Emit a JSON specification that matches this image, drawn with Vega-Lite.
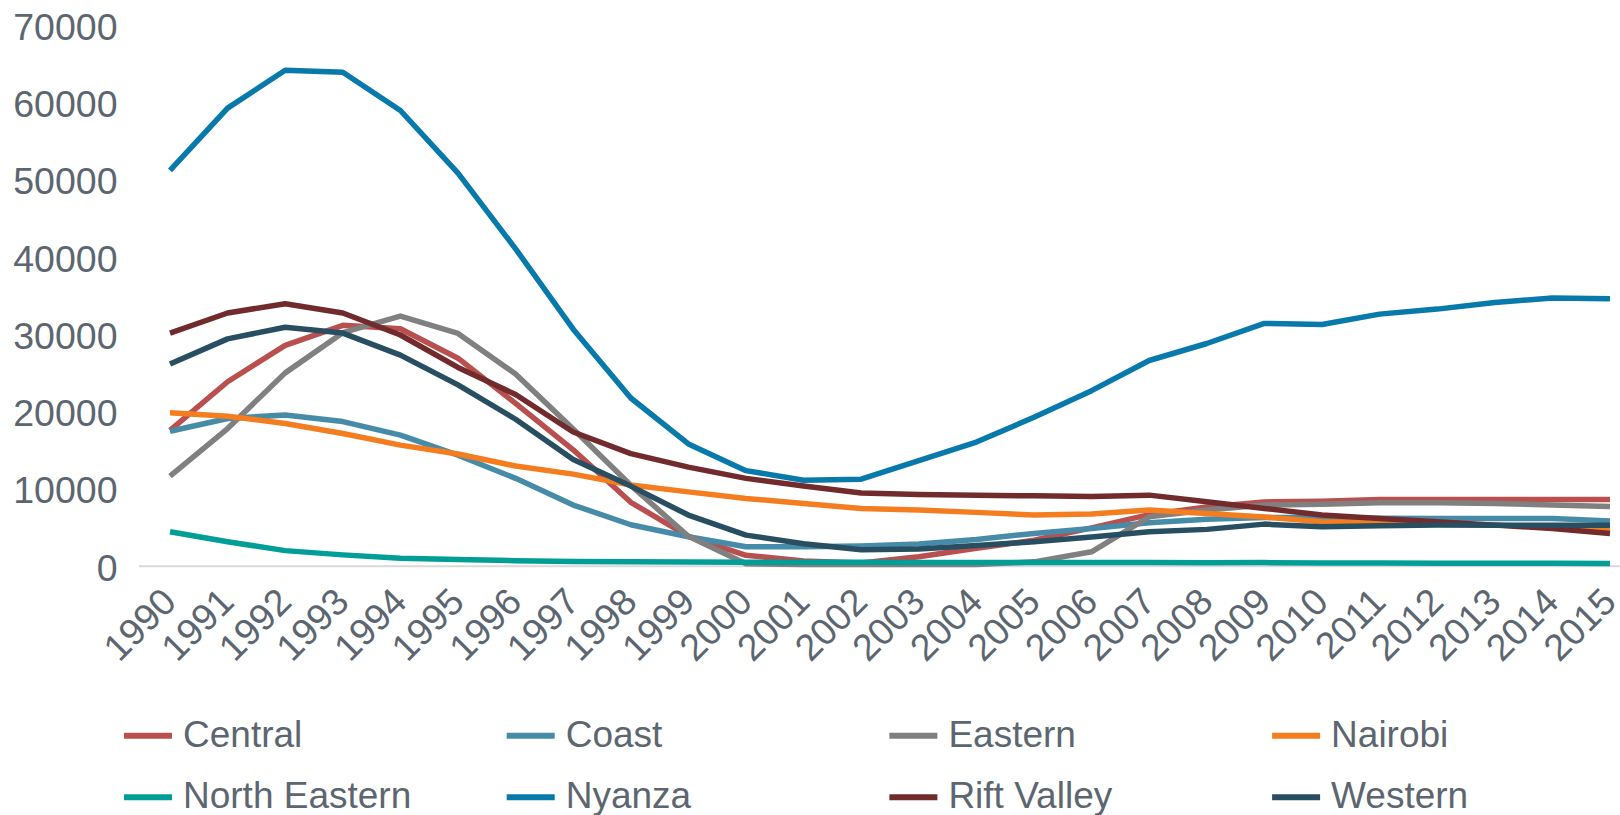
{
  "$schema": "https://vega.github.io/schema/vega-lite/v6.json",
  "width": 1481.5,
  "height": 541,
  "autosize": {"type": "none"},
  "padding": {"left": 138.5, "top": 24.7, "right": 0, "bottom": 249.3},
  "background": "white",
  "config": {
    "view": {"stroke": null},
    "font": "Liberation Sans"
  },
  "datasets": {
    "main": [
      {"region":"Central","year":1990,"value":17500},{"region":"Central","year":1991,"value":23800},{"region":"Central","year":1992,"value":28500},{"region":"Central","year":1993,"value":31100},{"region":"Central","year":1994,"value":30650},{"region":"Central","year":1995,"value":26850},{"region":"Central","year":1996,"value":21000},{"region":"Central","year":1997,"value":15000},{"region":"Central","year":1998,"value":8200},{"region":"Central","year":1999,"value":3800},{"region":"Central","year":2000,"value":1350},{"region":"Central","year":2001,"value":600},{"region":"Central","year":2002,"value":350},{"region":"Central","year":2003,"value":1150},{"region":"Central","year":2004,"value":2250},{"region":"Central","year":2005,"value":3300},{"region":"Central","year":2006,"value":4900},{"region":"Central","year":2007,"value":6600},{"region":"Central","year":2008,"value":7600},{"region":"Central","year":2009,"value":8250},{"region":"Central","year":2010,"value":8350},{"region":"Central","year":2011,"value":8550},{"region":"Central","year":2012,"value":8550},{"region":"Central","year":2013,"value":8550},{"region":"Central","year":2014,"value":8570},{"region":"Central","year":2015,"value":8550},
      {"region":"Coast","year":1990,"value":17400},{"region":"Coast","year":1991,"value":19050},{"region":"Coast","year":1992,"value":19500},{"region":"Coast","year":1993,"value":18650},{"region":"Coast","year":1994,"value":16900},{"region":"Coast","year":1995,"value":14300},{"region":"Coast","year":1996,"value":11300},{"region":"Coast","year":1997,"value":7850},{"region":"Coast","year":1998,"value":5300},{"region":"Coast","year":1999,"value":3750},{"region":"Coast","year":2000,"value":2450},{"region":"Coast","year":2001,"value":2450},{"region":"Coast","year":2002,"value":2550},{"region":"Coast","year":2003,"value":2800},{"region":"Coast","year":2004,"value":3400},{"region":"Coast","year":2005,"value":4180},{"region":"Coast","year":2006,"value":4820},{"region":"Coast","year":2007,"value":5550},{"region":"Coast","year":2008,"value":6000},{"region":"Coast","year":2009,"value":6250},{"region":"Coast","year":2010,"value":6250},{"region":"Coast","year":2011,"value":6150},{"region":"Coast","year":2012,"value":6100},{"region":"Coast","year":2013,"value":6100},{"region":"Coast","year":2014,"value":6100},{"region":"Coast","year":2015,"value":5800},
      {"region":"Eastern","year":1990,"value":11600},{"region":"Eastern","year":1991,"value":17750},{"region":"Eastern","year":1992,"value":24950},{"region":"Eastern","year":1993,"value":30150},{"region":"Eastern","year":1994,"value":32300},{"region":"Eastern","year":1995,"value":30050},{"region":"Eastern","year":1996,"value":24800},{"region":"Eastern","year":1997,"value":17700},{"region":"Eastern","year":1998,"value":10400},{"region":"Eastern","year":1999,"value":3800},{"region":"Eastern","year":2000,"value":250},{"region":"Eastern","year":2001,"value":150},{"region":"Eastern","year":2002,"value":150},{"region":"Eastern","year":2003,"value":150},{"region":"Eastern","year":2004,"value":150},{"region":"Eastern","year":2005,"value":500},{"region":"Eastern","year":2006,"value":1800},{"region":"Eastern","year":2007,"value":6330},{"region":"Eastern","year":2008,"value":7200},{"region":"Eastern","year":2009,"value":7850},{"region":"Eastern","year":2010,"value":7950},{"region":"Eastern","year":2011,"value":8150},{"region":"Eastern","year":2012,"value":8150},{"region":"Eastern","year":2013,"value":8050},{"region":"Eastern","year":2014,"value":7850},{"region":"Eastern","year":2015,"value":7650},
      {"region":"Nairobi","year":1990,"value":19800},{"region":"Nairobi","year":1991,"value":19350},{"region":"Nairobi","year":1992,"value":18400},{"region":"Nairobi","year":1993,"value":17100},{"region":"Nairobi","year":1994,"value":15600},{"region":"Nairobi","year":1995,"value":14450},{"region":"Nairobi","year":1996,"value":12900},{"region":"Nairobi","year":1997,"value":11850},{"region":"Nairobi","year":1998,"value":10450},{"region":"Nairobi","year":1999,"value":9550},{"region":"Nairobi","year":2000,"value":8700},{"region":"Nairobi","year":2001,"value":8050},{"region":"Nairobi","year":2002,"value":7400},{"region":"Nairobi","year":2003,"value":7200},{"region":"Nairobi","year":2004,"value":6900},{"region":"Nairobi","year":2005,"value":6550},{"region":"Nairobi","year":2006,"value":6700},{"region":"Nairobi","year":2007,"value":7200},{"region":"Nairobi","year":2008,"value":6750},{"region":"Nairobi","year":2009,"value":6300},{"region":"Nairobi","year":2010,"value":5700},{"region":"Nairobi","year":2011,"value":5550},{"region":"Nairobi","year":2012,"value":5450},{"region":"Nairobi","year":2013,"value":5250},{"region":"Nairobi","year":2014,"value":5050},{"region":"Nairobi","year":2015,"value":4750},
      {"region":"North Eastern","year":1990,"value":4400},{"region":"North Eastern","year":1991,"value":3100},{"region":"North Eastern","year":1992,"value":1950},{"region":"North Eastern","year":1993,"value":1400},{"region":"North Eastern","year":1994,"value":950},{"region":"North Eastern","year":1995,"value":800},{"region":"North Eastern","year":1996,"value":650},{"region":"North Eastern","year":1997,"value":550},{"region":"North Eastern","year":1998,"value":500},{"region":"North Eastern","year":1999,"value":480},{"region":"North Eastern","year":2000,"value":460},{"region":"North Eastern","year":2001,"value":450},{"region":"North Eastern","year":2002,"value":440},{"region":"North Eastern","year":2003,"value":430},{"region":"North Eastern","year":2004,"value":420},{"region":"North Eastern","year":2005,"value":410},{"region":"North Eastern","year":2006,"value":400},{"region":"North Eastern","year":2007,"value":420},{"region":"North Eastern","year":2008,"value":380},{"region":"North Eastern","year":2009,"value":400},{"region":"North Eastern","year":2010,"value":350},{"region":"North Eastern","year":2011,"value":340},{"region":"North Eastern","year":2012,"value":330},{"region":"North Eastern","year":2013,"value":320},{"region":"North Eastern","year":2014,"value":310},{"region":"North Eastern","year":2015,"value":300},
      {"region":"Nyanza","year":1990,"value":51150},{"region":"Nyanza","year":1991,"value":59200},{"region":"Nyanza","year":1992,"value":64100},{"region":"Nyanza","year":1993,"value":63850},{"region":"Nyanza","year":1994,"value":58900},{"region":"Nyanza","year":1995,"value":50800},{"region":"Nyanza","year":1996,"value":41000},{"region":"Nyanza","year":1997,"value":30600},{"region":"Nyanza","year":1998,"value":21700},{"region":"Nyanza","year":1999,"value":15750},{"region":"Nyanza","year":2000,"value":12300},{"region":"Nyanza","year":2001,"value":11050},{"region":"Nyanza","year":2002,"value":11200},{"region":"Nyanza","year":2003,"value":13600},{"region":"Nyanza","year":2004,"value":16000},{"region":"Nyanza","year":2005,"value":19200},{"region":"Nyanza","year":2006,"value":22650},{"region":"Nyanza","year":2007,"value":26550},{"region":"Nyanza","year":2008,"value":28750},{"region":"Nyanza","year":2009,"value":31350},{"region":"Nyanza","year":2010,"value":31200},{"region":"Nyanza","year":2011,"value":32550},{"region":"Nyanza","year":2012,"value":33200},{"region":"Nyanza","year":2013,"value":34050},{"region":"Nyanza","year":2014,"value":34650},{"region":"Nyanza","year":2015,"value":34550},
      {"region":"Rift Valley","year":1990,"value":30100},{"region":"Rift Valley","year":1991,"value":32700},{"region":"Rift Valley","year":1992,"value":33900},{"region":"Rift Valley","year":1993,"value":32700},{"region":"Rift Valley","year":1994,"value":29850},{"region":"Rift Valley","year":1995,"value":25650},{"region":"Rift Valley","year":1996,"value":22150},{"region":"Rift Valley","year":1997,"value":17300},{"region":"Rift Valley","year":1998,"value":14500},{"region":"Rift Valley","year":1999,"value":12750},{"region":"Rift Valley","year":2000,"value":11300},{"region":"Rift Valley","year":2001,"value":10300},{"region":"Rift Valley","year":2002,"value":9400},{"region":"Rift Valley","year":2003,"value":9200},{"region":"Rift Valley","year":2004,"value":9100},{"region":"Rift Valley","year":2005,"value":9050},{"region":"Rift Valley","year":2006,"value":8950},{"region":"Rift Valley","year":2007,"value":9130},{"region":"Rift Valley","year":2008,"value":8270},{"region":"Rift Valley","year":2009,"value":7410},{"region":"Rift Valley","year":2010,"value":6550},{"region":"Rift Valley","year":2011,"value":6120},{"region":"Rift Valley","year":2012,"value":5680},{"region":"Rift Valley","year":2013,"value":5250},{"region":"Rift Valley","year":2014,"value":4820},{"region":"Rift Valley","year":2015,"value":4180},
      {"region":"Western","year":1990,"value":26100},{"region":"Western","year":1991,"value":29350},{"region":"Western","year":1992,"value":30850},{"region":"Western","year":1993,"value":30100},{"region":"Western","year":1994,"value":27250},{"region":"Western","year":1995,"value":23400},{"region":"Western","year":1996,"value":18950},{"region":"Western","year":1997,"value":13750},{"region":"Western","year":1998,"value":10300},{"region":"Western","year":1999,"value":6550},{"region":"Western","year":2000,"value":3960},{"region":"Western","year":2001,"value":2850},{"region":"Western","year":2002,"value":2050},{"region":"Western","year":2003,"value":2150},{"region":"Western","year":2004,"value":2600},{"region":"Western","year":2005,"value":3100},{"region":"Western","year":2006,"value":3720},{"region":"Western","year":2007,"value":4390},{"region":"Western","year":2008,"value":4700},{"region":"Western","year":2009,"value":5380},{"region":"Western","year":2010,"value":5030},{"region":"Western","year":2011,"value":5160},{"region":"Western","year":2012,"value":5250},{"region":"Western","year":2013,"value":5250},{"region":"Western","year":2014,"value":5250},{"region":"Western","year":2015,"value":5250}
    ]
  },
  "data": {"name": "main"},
  "mark": {"type": "line", "strokeWidth": 5.5, "strokeJoin": "round", "strokeCap": "butt"},
  "encoding": {
    "x": {
      "field": "year",
      "type": "quantitative",
      "scale": {"domain": [1989.453, 2015.174], "nice": false, "zero": false},
      "axis": {
        "title": null,
        "values": [1990,1991,1992,1993,1994,1995,1996,1997,1998,1999,2000,2001,2002,2003,2004,2005,2006,2007,2008,2009,2010,2011,2012,2013,2014,2015],
        "format": "d",
        "grid": false,
        "ticks": false,
        "domain": true,
        "domainColor": "#D9D9D9",
        "domainWidth": 2,
        "labelAngle": -45,
        "labelAlign": "right",
        "labelBaseline": "middle",
        "labelPadding": 30,
        "labelFontSize": 37.5,
        "labelColor": "#5C6670",
        "labelFlush": false,
        "labelOverlap": false,
        "labelBound": false
      }
    },
    "y": {
      "field": "value",
      "type": "quantitative",
      "scale": {"domain": [0, 70000], "nice": false},
      "axis": {
        "title": null,
        "values": [0,10000,20000,30000,40000,50000,60000,70000],
        "format": "d",
        "grid": false,
        "ticks": false,
        "domain": false,
        "labelPadding": 21.5,
        "labelOffset": 3.5,
        "labelFontSize": 37.5,
        "labelColor": "#5C6670",
        "labelOverlap": false,
        "labelFlush": false
      }
    },
    "color": {
      "field": "region",
      "type": "nominal",
      "scale": {
        "domain": ["Central","Coast","Eastern","Nairobi","North Eastern","Nyanza","Rift Valley","Western"],
        "range": ["#B94F4F","#468BA8","#808080","#F47D20","#009E96","#0779AB","#722B2D","#284F61"]
      },
      "legend": {
        "title": null,
        "orient": "none",
        "legendX": -17.5,
        "legendY": 684,
        "direction": "horizontal",
        "columns": 4,
        "gridAlign": "all",
        "columnPadding": 82.7,
        "rowPadding": 16.5,
        "symbolType": "stroke",
        "symbolSize": 2304,
        "symbolStrokeWidth": 6,
        "labelOffset": 8,
        "labelFontSize": 37,
        "labelColor": "#5C6670",
        "labelLimit": 400,
        "padding": 0,
        "offset": 0
      }
    }
  }
}
